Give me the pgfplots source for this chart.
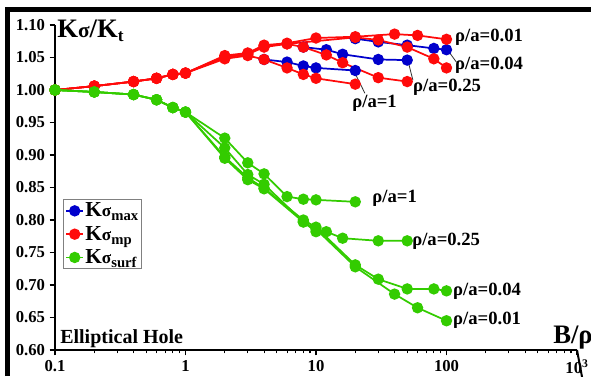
\documentclass[border=0pt]{standalone}
\usepackage{fontspec}
\setmainfont{Liberation Serif}
\usepackage{pgfplots}
\pgfplotsset{compat=1.18}
\definecolor{cb}{HTML}{0000CC}
\definecolor{cr}{HTML}{FF0A0A}
\definecolor{cg}{HTML}{33CC00}
\newcommand{\Ks}[1]{{\fontsize{16}{16}\selectfont K}{\fontsize{13}{13}\selectfont σ}\raisebox{-3pt}{\fontsize{11}{11}\selectfont #1}}
\newcommand{\lab}{\bfseries\fontsize{14}{14}\selectfont}
\begin{document}
\begin{tikzpicture}
\useasboundingbox (0,0) rectangle (443.25pt,282pt);
\fill[white] (0,0) rectangle (443.25pt,282pt);
\draw[line width=3.75pt, line join=miter] (5.6pt,0) -- (5.6pt,275.25pt) -- (443.25pt,275.25pt);
\begin{axis}[at={(41.25pt,19.5pt)}, anchor=south west, scale only axis,
  width=391.5pt, height=243.75pt,
  xmode=log, xmin=0.1, xmax=1000, ymin=0.6, ymax=1.1,
  axis x line=bottom, axis y line=left,
  axis line style={line width=1.5pt,-},
  xtick={0.1,1,10,100,1000}, xticklabels={0.1,1,10,100,10\textsuperscript{3}},
  minor xtick={0.2,0.3,0.4,0.5,0.6,0.7,0.8,0.9,2,3,4,5,6,7,8,9,20,30,40,50,60,70,80,90,200,300,400,500,600,700,800,900},
  ytick={0.6,0.65,0.7,0.75,0.8,0.85,0.9,0.95,1.0,1.05,1.1},
  yticklabels={0.60,0.65,0.70,0.75,0.80,0.85,0.90,0.95,1.00,1.05,1.10},
  tick align=outside, major tick length=4pt, minor tick length=2.5pt,
  tick style={line width=0.8pt,black},
  ticklabel style={font=\bfseries\fontsize{12.5}{14}\selectfont},
  clip=false,
  legend style={at={(0.0153,0.4646)}, anchor=north west, draw=gray, line width=0.8pt,
    inner sep=1.5pt, row sep=3.5pt, font=\bfseries, nodes={inner sep=1pt}},
  legend cell align=left,
  legend image code/.code={\draw[mark repeat=2,mark phase=2,#1] plot coordinates {(0cm,0cm) (0.22cm,0cm) (0.44cm,0cm)};},
  every axis plot/.append style={line width=1.3pt, mark=*, mark size=3.6pt},
]
% blue: K sigma max
\addplot[cb, mark options={fill=cb}] coordinates {(4,1.047) (6,1.043) (8,1.037) (10,1.034) (20,1.030)};
\addlegendentry{\Ks{max}}
\addplot[cb, mark options={fill=cb}, forget plot] coordinates {(8,1.066) (12,1.062) (16,1.055) (30,1.047) (50,1.046)};
\addplot[cb, mark options={fill=cb}, forget plot] coordinates {(20,1.079) (30,1.074) (50,1.069) (80,1.064) (100,1.062)};
% red: K sigma mp
\addplot[cr, mark options={fill=cr}] coordinates {(0.1,1.000) (0.2,1.006) (0.4,1.013) (0.6,1.018) (0.8,1.024) (1,1.026) (2,1.048) (3,1.053) (4,1.047) (6,1.034) (8,1.024) (10,1.018) (20,1.009)};
\addlegendentry{\Ks{mp}}
\addplot[cr, mark options={fill=cr}, forget plot] coordinates {(0.1,1.000) (0.2,1.006) (0.4,1.013) (0.6,1.018) (0.8,1.024) (1,1.026) (2,1.050) (3,1.055) (4,1.066) (6,1.071) (8,1.066) (12,1.054) (16,1.042) (30,1.019) (50,1.013)};
\addplot[cr, mark options={fill=cr}, forget plot] coordinates {(0.1,1.000) (0.2,1.006) (0.4,1.013) (0.6,1.018) (0.8,1.024) (1,1.026) (2,1.051) (3,1.056) (4,1.068) (6,1.071) (20,1.081) (30,1.077) (50,1.066) (80,1.048) (100,1.034)};
\addplot[cr, mark options={fill=cr}, forget plot] coordinates {(0.1,1.000) (0.2,1.006) (0.4,1.013) (0.6,1.018) (0.8,1.024) (1,1.026) (2,1.053) (3,1.057) (4,1.069) (6,1.072) (10,1.080) (20,1.082) (40,1.086) (60,1.084) (100,1.078)};
% green: K sigma surf
\addplot[cg, mark options={fill=cg}] coordinates {(0.1,1.000) (0.2,0.997) (0.4,0.993) (0.6,0.985) (0.8,0.973) (1,0.966) (2,0.926) (3,0.888) (4,0.871) (6,0.836) (8,0.832) (10,0.831) (20,0.828)};
\addlegendentry{\Ks{surf}}
\addplot[cg, mark options={fill=cg}, forget plot] coordinates {(0.1,1.000) (0.2,0.997) (0.4,0.993) (0.6,0.985) (0.8,0.973) (1,0.966) (2,0.911) (3,0.870) (4,0.855) (8,0.797) (10,0.782) (12,0.782) (16,0.772) (30,0.768) (50,0.768)};
\addplot[cg, mark options={fill=cg}, forget plot] coordinates {(0.1,1.000) (0.2,0.997) (0.4,0.993) (0.6,0.985) (0.8,0.973) (1,0.966) (2,0.897) (3,0.865) (4,0.849) (8,0.800) (10,0.789) (20,0.731) (30,0.709) (50,0.694) (80,0.694) (100,0.691)};
\addplot[cg, mark options={fill=cg}, forget plot] coordinates {(0.1,1.000) (0.2,0.997) (0.4,0.993) (0.6,0.985) (0.8,0.973) (1,0.966) (2,0.895) (3,0.862) (4,0.848) (8,0.797) (10,0.786) (20,0.728) (40,0.686) (60,0.665) (100,0.645)};
% connectors
\draw[black!80, line width=0.6pt] (axis cs:19.9,1.026) -- (axis cs:23.7,0.995);
\draw[black!80, line width=0.6pt] (axis cs:49.8,1.051) -- (axis cs:55.3,1.015);
\draw[black!80, line width=0.6pt] (axis cs:106,1.057) -- (axis cs:119,1.043);
% labels
\node[anchor=west, inner sep=0pt, font=\lab] at (axis cs:116,1.0815) {ρ/a=0.01};
\node[anchor=west, inner sep=0pt, font=\lab] at (axis cs:116,1.0385) {ρ/a=0.04};
\node[anchor=west, inner sep=0pt, font=\lab] at (axis cs:55.3,1.0046) {ρ/a=0.25};
\node[anchor=west, inner sep=0pt, font=\lab] at (axis cs:18.9,0.980) {ρ/a=1};
\node[anchor=west, inner sep=0pt, font=\lab] at (axis cs:26.9,0.834) {ρ/a=1};
\node[anchor=west, inner sep=0pt, font=\lab] at (axis cs:54.4,0.768) {ρ/a=0.25};
\node[anchor=west, inner sep=0pt, font=\lab] at (axis cs:112,0.691) {ρ/a=0.04};
\node[anchor=west, inner sep=0pt, font=\lab] at (axis cs:112,0.645) {ρ/a=0.01};
\draw[line width=1.5pt] (axis cs:1000,0.6) -- ++(12pt,0);
\end{axis}
\node[anchor=base west, inner sep=0pt] at (42.75pt,254.25pt) {\bfseries{\fontsize{20}{20}\selectfont K}{\fontsize{16}{16}\selectfont σ}{\fontsize{20}{20}\selectfont /K}\raisebox{-3pt}{\fontsize{13}{13}\selectfont t}};
\node[anchor=base west, inner sep=0pt] at (414.75pt,24.75pt) {\bfseries\fontsize{20}{20}\selectfont B/ρ};
\node[anchor=base west, inner sep=0pt] at (45pt,24.75pt) {\bfseries\fontsize{15}{15}\selectfont Elliptical Hole};
\end{tikzpicture}
\end{document}
